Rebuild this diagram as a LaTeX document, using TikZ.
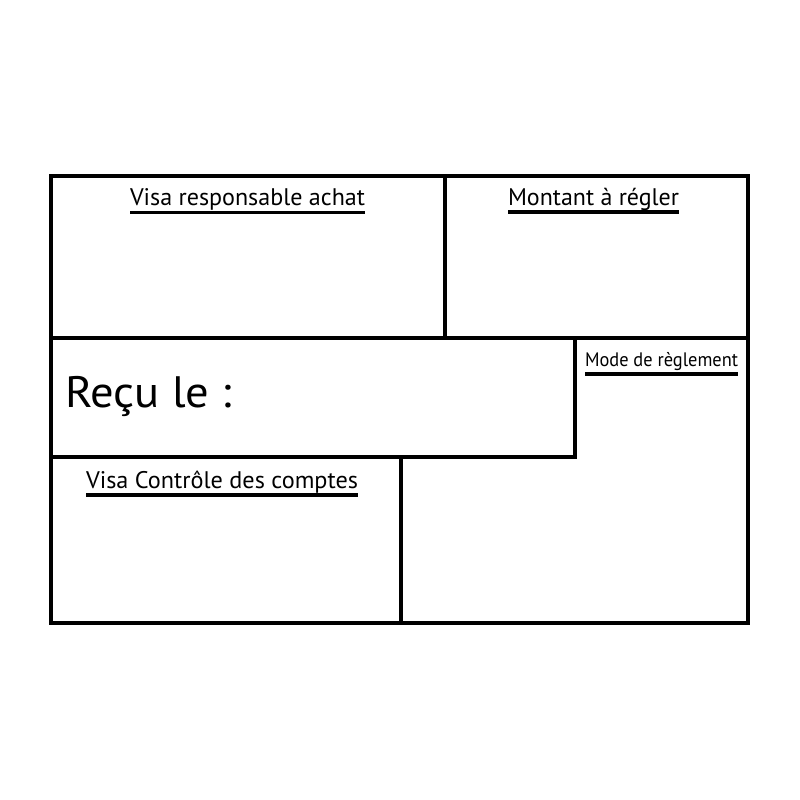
\documentclass[tikz,border=0pt]{standalone}
\usepackage{fontspec}
\setmainfont{PT Sans}
\newcommand{\fitlbl}[3]{\resizebox{#1}{\height}{\fontsize{#2}{#2}\selectfont #3}}
\begin{document}
\begin{tikzpicture}[x=1pt,y=-1pt,
  frame/.style={line width=4pt, line cap=rect},
  ul/.style={line width=3.6pt},
  lbl/.style={inner sep=0pt, outer sep=0pt, anchor=base west}]
\useasboundingbox (0,0) rectangle (800,800);
% frame
\draw[frame] (51,176) rectangle (747.5,623);
\draw[frame] (51,338) -- (747.5,338);
\draw[frame] (445,176) -- (445,338);
\draw[frame] (51,457) -- (575,457) -- (575,338);
\draw[frame] (401,457) -- (401,623);
% labels
\node[lbl] (t1) at (130,205.5) {\fitlbl{235pt}{24}{Visa responsable achat}};
\node[lbl] (t2) at (508,205) {\fitlbl{171pt}{24}{Montant à régler}};
\node[lbl] (t3) at (65,407.3) {\fitlbl{167pt}{44}{Reçu le :}};
\node[lbl] (t4) at (585,366.5) {\fitlbl{153pt}{19.5}{Mode de règlement}};
\node[lbl] (t5) at (86,488.3) {\fitlbl{272pt}{24}{Visa Contrôle des comptes}};
% underlines
\draw[ul] ([yshift=-7pt]t1.base west) -- ([yshift=-7pt]t1.base east);
\draw[ul] ([yshift=-7pt]t2.base west) -- ([yshift=-7pt]t2.base east);
\draw[ul] ([yshift=-7.2pt]t4.base west) -- ([yshift=-7.2pt]t4.base east);
\draw[ul] ([yshift=-6.5pt]t5.base west) -- ([yshift=-6.5pt]t5.base east);
\end{tikzpicture}
\end{document}
